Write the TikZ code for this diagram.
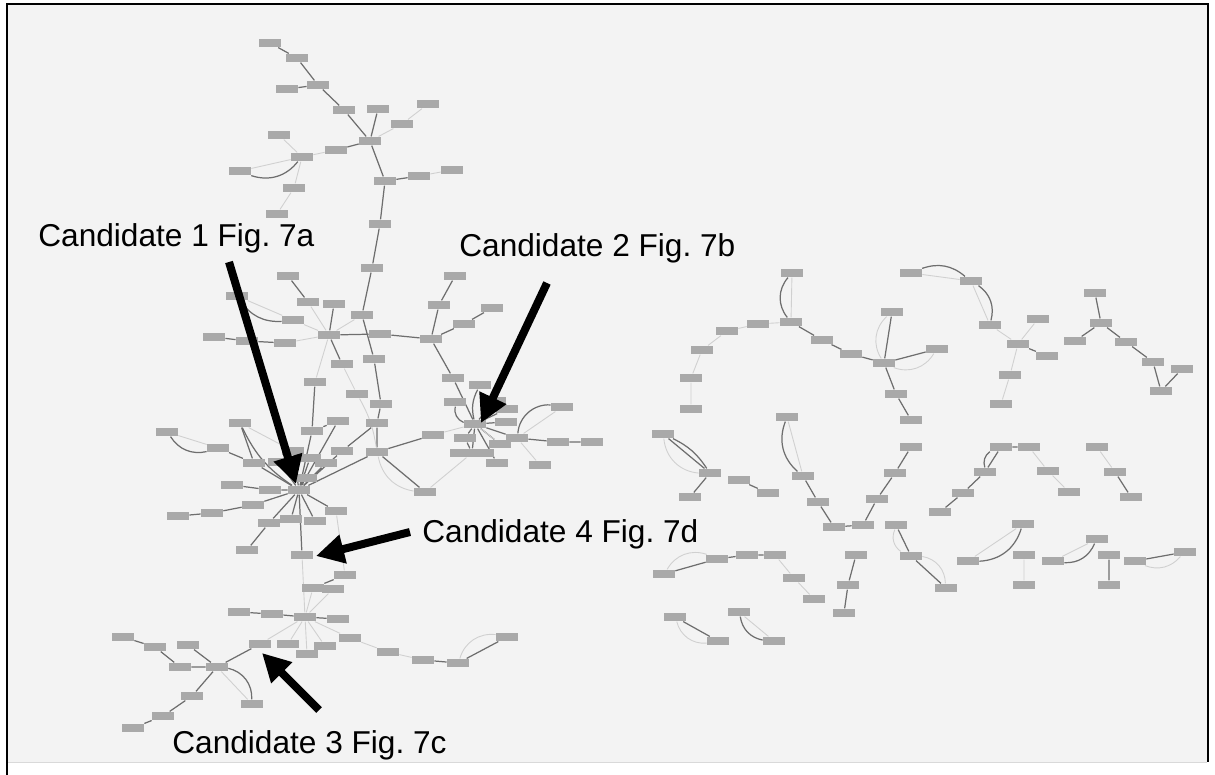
\documentclass[tikz,border=0pt]{standalone}
\usepackage{fontspec}
\setmainfont{Liberation Sans}
\usetikzlibrary{arrows.meta}
\definecolor{paper}{HTML}{F3F3F3}
\definecolor{boxgray}{HTML}{A9A9A9}
\definecolor{edgedark}{HTML}{6E6E6E}
\definecolor{edgelight}{HTML}{D0D0D0}
\pgfdeclarelayer{paperlayer}
\pgfdeclarelayer{edgelayer}
\pgfsetlayers{paperlayer,edgelayer,main}
\frenchspacing
\begin{document}
\begin{tikzpicture}[x=0.02cm, y=-0.02cm,
  gn/.style={fill=boxgray, minimum width=0.44cm, minimum height=0.17cm, inner sep=0pt},
  dk/.style={draw=edgedark, line width=0.7pt},
  lt/.style={draw=edgelight, line width=0.5pt},
  callout/.style={line width=0.16cm, -{Triangle[length=0.56cm,width=0.56cm]}},
  lab/.style={anchor=base west, inner sep=0pt, font=\fontsize{18}{20}\selectfont}]
  \useasboundingbox (0,0) rectangle (1215,775);
  % Frame and paper
  \begin{pgfonlayer}{paperlayer}
    \fill[white] (0,0) rectangle (1215,775);
    \fill[paper] (8,5) rectangle (1207,762);
    \draw[gray!30] (8,762) -- (1207,762);
    \draw[black, line width=1.2pt] (7,775) -- (7,4) -- (1208,4) -- (1208,762);
  \end{pgfonlayer}
  % Big component: upper branch
  \node[gn] (a1) at (270,43) {};
  \node[gn] (a2) at (297,58) {};
  \node[gn] (a3) at (318,85) {};
  \node[gn] (a4) at (287,89) {};
  \node[gn] (a5) at (344,110) {};
  \node[gn] (a6) at (378,109) {};
  \node[gn] (a7) at (428,104) {};
  \node[gn] (a8) at (402,124) {};
  \node[gn] (a9) at (370,141) {};
  \node[gn] (a10) at (336,150) {};
  \node[gn] (a11) at (302,157) {};
  \node[gn] (a12) at (279,135) {};
  \node[gn] (a13) at (240,171) {};
  \node[gn] (a14) at (294,188) {};
  \node[gn] (a15) at (277,214) {};
  \node[gn] (a16) at (385,181) {};
  \node[gn] (a17) at (419,176) {};
  \node[gn] (a18) at (452,170) {};
  \node[gn] (a19) at (380,224) {};
  \node[gn] (a20) at (372,268) {};
  \node[gn] (a21) at (362,315) {};
  \node[gn] (a22) at (334,304) {};
  \node[gn] (a23) at (329,335) {};
  \node[gn] (a24) at (380,334) {};
  \node[gn] (a25) at (431,339) {};
  \node[gn] (a26) at (439,305) {};
  \node[gn] (a27) at (455,276) {};
  \node[gn] (a28) at (464,324) {};
  \node[gn] (a29) at (492,308) {};
  \node[gn] (a30) at (288,276) {};
  \node[gn] (a31) at (237,296) {};
  \node[gn] (a32) at (308,302) {};
  \node[gn] (a33) at (293,320) {};
  \node[gn] (a34) at (214,337) {};
  \node[gn] (a35) at (247,341) {};
  \node[gn] (a36) at (285,343) {};
  \node[gn] (a37) at (342,364) {};
  \node[gn] (a38) at (374,359) {};
  \node[gn] (a39) at (453,378) {};
  \node[gn] (a40) at (315,382) {};
  \node[gn] (a41) at (357,394) {};
  \node[gn] (a42) at (381,404) {};
  \node[gn] (a44) at (455,402) {};
  % Candidate 1 hub and its ring
  \node[gn] (hubA) at (299,490) {};
  \node[gn] (a45) at (240,423) {};
  \node[gn] (a46) at (312,431) {};
  \node[gn] (a47) at (338,421) {};
  \node[gn] (a48) at (377,423) {};
  \node[gn] (a49) at (167,432) {};
  \node[gn] (a50) at (218,448) {};
  \node[gn] (a51) at (254,463) {};
  \node[gn] (a52) at (342,451) {};
  \node[gn] (a53) at (293,451) {};
  \node[gn] (a54) at (377,452) {};
  \node[gn] (a55) at (433,435) {};
  \node[gn] (a59) at (425,492) {};
  \node[gn] (a60) at (310,458) {};
  \node[gn] (a61) at (326,463) {};
  \node[gn] (a62) at (306,478) {};
  \node[gn] (a63) at (279,462) {};
  \node[gn] (a58) at (232,485) {};
  \node[gn] (a64) at (270,490) {};
  \node[gn] (a65) at (253,505) {};
  \node[gn] (a66) at (212,513) {};
  \node[gn] (a67) at (178,516) {};
  \node[gn] (a68) at (269,523) {};
  \node[gn] (a69) at (291,519) {};
  \node[gn] (a70) at (315,521) {};
  \node[gn] (a71) at (336,511) {};
  \node[gn] (a72) at (247,550) {};
  \node[gn] (a73) at (302,555) {};
  \node[gn] (a74) at (345,575) {};
  \node[gn] (a75) at (313,588) {};
  \node[gn] (a76) at (333,589) {};
  % Candidate 3 area
  \node[gn] (hubC) at (305,617) {};
  \node[gn] (a77) at (239,612) {};
  \node[gn] (a78) at (272,614) {};
  \node[gn] (a80) at (338,619) {};
  \node[gn] (a81) at (350,638) {};
  \node[gn] (a82) at (123,637) {};
  \node[gn] (a83) at (155,647) {};
  \node[gn] (a84) at (188,645) {};
  \node[gn] (a85) at (260,644) {};
  \node[gn] (a86) at (288,644) {};
  \node[gn] (a87) at (307,654) {};
  \node[gn] (a88) at (325,646) {};
  \node[gn] (a89) at (180,667) {};
  \node[gn] (a90) at (217,667) {};
  \node[gn] (a91) at (388,652) {};
  \node[gn] (a92) at (423,660) {};
  \node[gn] (a93) at (458,663) {};
  \node[gn] (a94) at (507,637) {};
  \node[gn] (a95) at (192,696) {};
  \node[gn] (a96) at (252,704) {};
  \node[gn] (a97) at (163,716) {};
  \node[gn] (a98) at (133,728) {};
  % Candidate 2 hub
  \node[gn] (hubB) at (475,424) {};
  \node[gn] (b1) at (480,385) {};
  \node[gn] (b2) at (495,401) {};
  \node[gn] (b3) at (507,409) {};
  \node[gn] (b4) at (562,407) {};
  \node[gn] (b5) at (506,422) {};
  \node[gn] (b6) at (517,438) {};
  \node[gn] (b7) at (558,442) {};
  \node[gn] (b8) at (592,442) {};
  \node[gn] (b9) at (465,438) {};
  \node[gn] (b10) at (500,444) {};
  \node[gn, minimum width=0.9cm] (b11) at (472,453) {};
  \node[gn] (b12) at (497,463) {};
  \node[gn] (b13) at (540,465) {};
  % Small components on the right
  \node[gn] (r1) at (792,273) {};
  \node[gn] (r2) at (911,273) {};
  \node[gn] (r3) at (971,281) {};
  \node[gn] (r4) at (1095,293) {};
  \node[gn] (r5) at (892,312) {};
  \node[gn] (r6) at (1038,319) {};
  \node[gn] (r7) at (727,331) {};
  \node[gn] (r8) at (758,324) {};
  \node[gn] (r9) at (791,322) {};
  \node[gn] (r10) at (990,325) {};
  \node[gn] (r11) at (1101,323) {};
  \node[gn] (r12) at (822,340) {};
  \node[gn] (r13) at (1075,341) {};
  \node[gn] (r14) at (1126,342) {};
  \node[gn] (r15) at (702,350) {};
  \node[gn] (r16) at (851,354) {};
  \node[gn] (r17) at (937,349) {};
  \node[gn] (r18) at (1018,344) {};
  \node[gn] (r19) at (1047,356) {};
  \node[gn] (r20) at (884,363) {};
  \node[gn] (r21) at (691,378) {};
  \node[gn] (r22) at (1010,375) {};
  \node[gn] (r23) at (1153,362) {};
  \node[gn] (r24) at (1182,369) {};
  \node[gn] (r25) at (1161,391) {};
  \node[gn] (r26) at (896,394) {};
  \node[gn] (r27) at (691,409) {};
  \node[gn] (r28) at (1001,404) {};
  \node[gn] (r29) at (911,420) {};
  \node[gn] (r30) at (663,434) {};
  \node[gn] (r31) at (787,417) {};
  \node[gn] (r40) at (710,473) {};
  \node[gn] (r41) at (739,480) {};
  \node[gn] (r42) at (768,493) {};
  \node[gn] (r43) at (690,497) {};
  \node[gn] (r44) at (803,476) {};
  \node[gn] (r45) at (818,502) {};
  \node[gn] (r46) at (834,527) {};
  \node[gn] (r47) at (863,525) {};
  \node[gn] (r48) at (877,499) {};
  \node[gn] (r49) at (895,473) {};
  \node[gn] (r50) at (911,447) {};
  \node[gn] (r51) at (1001,447) {};
  \node[gn] (r52) at (1029,447) {};
  \node[gn] (r53) at (985,472) {};
  \node[gn] (r54) at (1048,471) {};
  \node[gn] (r55) at (963,493) {};
  \node[gn] (r56) at (940,512) {};
  \node[gn] (r57) at (1069,492) {};
  \node[gn] (r58) at (1097,447) {};
  \node[gn] (r59) at (1115,472) {};
  \node[gn] (r60) at (1131,497) {};
  \node[gn] (r61) at (896,525) {};
  \node[gn] (r62) at (911,556) {};
  \node[gn] (r63) at (946,588) {};
  \node[gn] (r64) at (1023,524) {};
  \node[gn] (r65) at (968,561) {};
  \node[gn] (r66) at (1097,539) {};
  \node[gn] (r67) at (1053,561) {};
  \node[gn] (r68) at (1024,555) {};
  \node[gn] (r69) at (1024,585) {};
  \node[gn] (r70) at (1109,555) {};
  \node[gn] (r71) at (1109,585) {};
  \node[gn] (r72) at (1135,561) {};
  \node[gn] (r73) at (1185,552) {};
  \node[gn] (r74) at (664,574) {};
  \node[gn] (r75) at (717,559) {};
  \node[gn] (r76) at (747,555) {};
  \node[gn] (r77) at (775,555) {};
  \node[gn] (r78) at (794,578) {};
  \node[gn] (r79) at (814,599) {};
  \node[gn] (r80) at (856,555) {};
  \node[gn] (r81) at (848,585) {};
  \node[gn] (r82) at (844,613) {};
  \node[gn] (r83) at (675,617) {};
  \node[gn] (r84) at (718,641) {};
  \node[gn] (r85) at (739,612) {};
  \node[gn] (r86) at (774,641) {};
  % Edges
  \begin{pgfonlayer}{edgelayer}
    \draw[dk] (a1) -- (a2) (a2) -- (a3) (a3) -- (a4) (a3) -- (a5) (a5) -- (a9)
      (a6) -- (a9) (a9) -- (a10) (a9) -- (a16) (a16) -- (a17) (a16) -- (a19)
      (a19) -- (a20) (a20) -- (a21) (a21) -- (a38) (a38) -- (a42) (a42) -- (a48)
      (a48) -- (a54) (a22) -- (a23) (a23) -- (a24) (a24) -- (a25) (a25) -- (a26)
      (a26) -- (a27) (a25) -- (a28) (a28) -- (a29) (a25) -- (a39) (a39) -- (hubB)
      (a30) -- (a32) (a34) -- (a35) (a35) -- (a36) (a23) -- (a37) (a40) -- (a46)
      (a46) -- (a47) (a48) -- (a52) (a54) -- (a55) (a54) -- (a59) (hubA) -- (a54);
    \draw[dk] (a11) to[bend left=35] (a13) (a31) to[bend right=30] (a33)
      (a49) to[bend right=35] (a50) (a45) to[bend right=15] (hubA)
      (a44) to[bend right=40] (hubB);
    \draw[lt] (a7) -- (a8) (a8) -- (a9) (a10) -- (a11) (a11) -- (a12) (a11) -- (a13)
      (a11) -- (a14) (a14) -- (a15) (a17) -- (a18) (a31) -- (a33) (a33) -- (a23)
      (a32) -- (a23) (a36) -- (a23) (a21) -- (a23) (a23) -- (a40) (a37) -- (a41)
      (a45) -- (a53) (a49) -- (a50) (a55) -- (hubB) (a59) -- (b11);
    \draw[lt] (a41) to[bend left=10] (a54) (a54) to[bend right=35] (a59);
    % spokes of the Candidate 1 hub
    \draw[dk] (a45) -- (a51) (a50) -- (a51) (a51) -- (hubA) (a58) -- (a64)
      (a64) -- (hubA) (a65) -- (hubA) (a66) -- (a65) (a67) -- (a66) (a68) -- (hubA)
      (a69) -- (hubA) (a70) -- (hubA) (a71) -- (hubA) (a72) -- (a68) (a73) -- (hubA)
      (a46) -- (hubA) (a47) -- (hubA) (a53) -- (hubA) (a60) -- (hubA) (a61) -- (hubA)
      (a62) -- (hubA) (a63) -- (hubA) (a52) -- (hubA);
    % Candidate 3 area
    \draw[dk] (a74) -- (a75) (a77) -- (a78) (a78) -- (hubC) (hubC) -- (a80)
      (a85) -- (a90) (a82) -- (a83) (a83) -- (a89) (a84) -- (a90) (a89) -- (a90)
      (a90) -- (a95) (a95) -- (a97) (a97) -- (a98) (a92) -- (a93) (a93) -- (a94);
    \draw[dk] (a90) to[bend left=40] (a96);
    \draw[lt] (a73) -- (hubC) (a75) -- (hubC) (a76) -- (hubC) (a71) -- (a74)
      (hubC) -- (a85) (hubC) -- (a86) (hubC) -- (a87) (hubC) -- (a88) (hubC) -- (a81)
      (a81) -- (a91) (a91) -- (a92) (a90) -- (a96);
    \draw[lt] (a93) to[bend left=40] (a94);
    % Candidate 2 hub
    \draw[dk] (b1) to[bend right=20] (hubB);
    \draw[dk] (b2) -- (hubB) (b3) -- (hubB) (b5) -- (hubB) (b6) -- (hubB)
      (b9) -- (hubB) (b11) -- (hubB) (b12) -- (hubB) (b10) -- (hubB) (b6) -- (b7)
      (b7) -- (b8) (b9) -- (b11);
    \draw[dk] (b6) to[bend left=45] (b4);
    \draw[lt] (b6) -- (b4) (b6) -- (b13) (hubB) -- (b10);
    % Right components
    \draw[dk] (r1) to[bend right=40] (r9) (r2) to[bend left=30] (r3)
      (r3) to[bend left=35] (r10) (r30) to[bend left=15] (r40)
      (r31) to[bend right=35] (r44) (r51) to[bend right=35] (r53)
      (r64) to[bend left=35] (r65) (r66) to[bend left=35] (r67)
      (r85) to[bend right=35] (r86);
    \draw[lt] (r1) -- (r9) (r21) -- (r27) (r15) -- (r21) (r7) -- (r15) (r7) -- (r8)
      (r8) -- (r9) (r2) -- (r3) (r3) -- (r10) (r10) -- (r18) (r18) -- (r6) (r18) -- (r22)
      (r22) -- (r28) (r31) -- (r44) (r52) -- (r54) (r54) -- (r57) (r58) -- (r59)
      (r64) -- (r65) (r66) -- (r67) (r68) -- (r69) (r77) -- (r78) (r78) -- (r79)
      (r85) -- (r86);
    \draw[lt] (r20) to[bend left=40] (r5) (r20) to[bend right=40] (r17)
      (r30) to[bend right=40] (r40) (r61) to[bend right=40] (r62)
      (r62) to[bend left=40] (r63) (r72) to[bend right=35] (r73)
      (r74) to[bend left=40] (r75) (r83) to[bend right=40] (r84);
    \draw[dk] (r9) -- (r12) (r12) -- (r16) (r16) -- (r20) (r20) -- (r5) (r20) -- (r17)
      (r20) -- (r26) (r26) -- (r29) (r18) -- (r19) (r4) -- (r11) (r11) -- (r13)
      (r11) -- (r14) (r14) -- (r23) (r23) -- (r25) (r25) -- (r24) (r30) -- (r40)
      (r40) -- (r43) (r41) -- (r42) (r44) -- (r45) (r45) -- (r46) (r46) -- (r47)
      (r47) -- (r48) (r48) -- (r49) (r49) -- (r50) (r51) -- (r53) (r53) -- (r55)
      (r55) -- (r56) (r51) -- (r52) (r59) -- (r60) (r61) -- (r62) (r62) -- (r63)
      (r70) -- (r71) (r72) -- (r73) (r74) -- (r75) (r75) -- (r76) (r76) -- (r77)
      (r80) -- (r81) (r81) -- (r82) (r83) -- (r84);
  \end{pgfonlayer}
  % Candidate labels and arrows
  \node[lab] (cand1) at (38,246) {Candidate 1 Fig. 7a};
  \node[lab] (cand2) at (459,256) {Candidate 2 Fig. 7b};
  \node[lab] (cand4) at (422,542) {Candidate 4 Fig. 7d};
  \node[lab] (cand3) at (172,753) {Candidate 3 Fig. 7c};
  \coordinate (tail1) at (229,262);
  \coordinate (tip1) at (296,484);
  \coordinate (tail2) at (547,283);
  \coordinate (tip2) at (481,423);
  \coordinate (tail4) at (410,532);
  \coordinate (tip4) at (316,556);
  \coordinate (tail3) at (319,710);
  \coordinate (tip3) at (262,653);
  \draw[callout] (tail1) -- (tip1);
  \draw[callout] (tail2) -- (tip2);
  \draw[callout] (tail4) -- (tip4);
  \draw[callout] (tail3) -- (tip3);
\end{tikzpicture}
\end{document}
